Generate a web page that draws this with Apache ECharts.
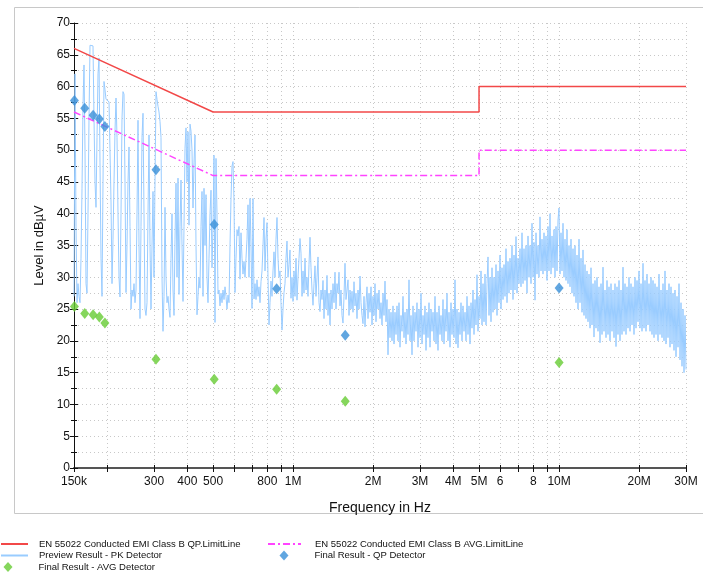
<!DOCTYPE html>
<html>
<head>
<meta charset="utf-8">
<script src="https://cdn.jsdelivr.net/npm/echarts@6/dist/echarts.min.js"></script>
<style>
html,body{margin:0;padding:0;background:#fff;}
#chart{width:703px;height:573px;}
</style>
</head>
<body>
<div id="chart"></div>
<script>
// ---- Axis ticks ----
const tickHz = [150e3,200e3,300e3,400e3,500e3,600e3,700e3,800e3,900e3,1e6,2e6,3e6,4e6,5e6,6e6,7e6,8e6,9e6,10e6,20e6,30e6];
const tickLabels = ['150k','','300','400','500','','','800','','1M','2M','3M','4M','5M','6','','8','','10M','20M','30M'];

// ---- Limit lines [Hz, dBuV] ----
const qpLimitHz = [150e3, 500e3, 5e6, 5e6, 30e6];
const qpLimitDb = [66, 56, 56, 60, 60];
const avgLimitHz = [150e3, 500e3, 5e6, 5e6, 30e6];
const avgLimitDb = [56, 46, 46, 50, 50];

// ---- Final results ----
const qpHz = [150.5e3, 164.6e3, 177e3, 186.8e3, 196e3, 305e3, 505e3, 867e3, 1.57e6, 10.0e6];
const qpDb = [57.8, 56.6, 55.5, 54.9, 53.7, 46.9, 38.3, 28.2, 20.9, 28.3];
const avgHz = [150.5e3, 164.6e3, 177e3, 186.8e3, 196e3, 305e3, 505e3, 867e3, 1.57e6, 10.0e6];
const avgDb = [25.4, 24.3, 24.1, 23.75, 22.8, 17.1, 13.95, 12.4, 10.5, 16.6];

// ---- Preview sweep (PK), log-spaced from start to stop ----
const pkStartHz = 150e3;
const pkStopHz = 30e6;
const pkLevels = [
27,62,38,26,29,27,26,33,44,57,
63.4,50,29,27.5,40,55,66.5,66.7,66.6,66.4,
55,45,41,52,62,64.5,48,33,27,45,
60.8,59.5,58,57.8,57.9,57.6,57.5,42,29,36,
45,53,58.2,52,40,30,26.9,40,55,59.2,
58.8,45,27.6,35,45,50.5,38,25,28,27,
29,26,28,40,54.7,35,23.5,38,52,55.8,
40,25,24,26,40,52.4,35,25,35,43.5,
30,45,59.2,58,56.9,56,54.5,52,30,21.5,
27,41,30,26,27,25,23.7,33,40,28,
24,36,44.8,30,45.6,27.3,38,45.3,35,26.2,
38,50.3,53.5,45,52.9,38.2,54.1,53,50,40.9,
48,52.4,35,24.1,27,30,28.3,38,43.5,27,
44,35,43,30,26,33,40,43.7,31.5,38,
49.2,22.9,48.7,40,27.4,28,25.5,27.5,26,28,
26.5,28.5,27,25,27.2,26,35,42.4,47.5,48.2,
42,27.6,33,37.5,36.5,38,29.7,37,33,30.5,
32.5,30,33,36,41.4,30,42.4,35,25.1,42.4,
26.6,29,26.5,29.6,27,28.5,26,29.3,31,35,
39.4,31,36,38.6,30,22.5,26,29.4,27,31,
34,30,36,39.4,33,30,31,26,21.7,25,
27.6,29,33,35.7,30,32,34.3,26.7,30,26.2,
31,27,33,26.4,30,33,36.1,33.8,27,31,
27.5,33,28,30,27,32,36.3,31.5,28,25.6,
29,31.8,27,30,33.2,26,24.6,28,26.5,29.5,
23.5,28,25,30.3,24,27.5,22.5,28,25,29,
26,30.8,25,29,27.5,30.8,25.5,28,24,22.8,
27,32.2,26.5,28,29.6,24,28,25,27.8,24.5,
29.3,25.5,27.5,23.5,28,25,30.2,26,24,22.7,
27,22.2,26,28.5,23.5,27.5,24.5,28.5,22.5,27,
24,29,23,27.5,25,28,23.5,26,22.5,27.5,
24,29.4,23,26.5,17.8,25,20.5,24.5,20,25.5,
19.5,24.5,21,25.5,20,26,19,24,21.5,27,
20.5,24.5,19.5,25,21,29.6,20,24,17.8,25.5,
20,24.5,21.5,26,19,25,20.5,27.5,19.5,24,
21,25.5,18.5,24.5,20.5,26,19,25,21.5,24.5,
20,27,19.5,24.5,18.5,25.5,21,24,20,26.5,
19.5,25,21.5,27.5,20,24.5,19,26,21,25,
20.5,29.6,19.5,25,18.9,24.5,21,26,20,25.5,
21.5,24.5,20,27,21,25.5,19.5,26,22,28,
21,26.5,22.5,30.4,21.5,27,23.5,31,22.5,29,
23,30.5,22.5,29,33.2,24,30,23,31.5,24.5,
30,25,32,24,31,26,33.5,25,31.5,26.5,
32,27,34.5,26,32.5,27.5,33,28,35,26.5,
33.5,28,36.4,27.5,33,29,34.5,28.5,37,29,
34.5,29.5,35,27.5,36.5,30,35,29,38.5,30,
35.5,26.4,37,30.5,35,30,39.5,31,36,30.5,
37,31,36.5,29.5,38,31,40,30.5,36.5,31.5,
37.5,30,38,31,39,40.9,30.5,37,31,38.5,
30,36,29.5,37.5,29,35,28.5,36,27.5,34.5,
27,35,26,33.5,25,36,26,33,24.5,34.3,
24,32,23.5,31,23,30.5,22,31.5,22.5,29,
20.6,29.5,22,30,21.5,28.5,19.7,29,21,31.6,
21.5,28,20.5,29.5,21,28.5,20,29,21.5,28,
20.5,29,19.1,28.5,21,29.5,20,28,21,31.6,
21.5,29,21,28.5,22,30,21.5,29,22.5,28.5,
21,30,22,29.5,23,31,22,29,21.5,32.2,
22,29.5,21.5,30.5,22.5,29,21.5,30,21,29.5,
20.5,29,21,28.5,20,30.5,21,28,20.5,29,
20,31,19.5,28,20.5,29,19,28.5,19.5,27.5,
18.5,28,17.5,27,19,29,17,26,16,25,
15,24,15.5
];

// ---- Series names ----
const names = {
  qpLim: 'EN 55022 Conducted EMI Class B QP.LimitLine',
  avgLim: 'EN 55022 Conducted EMI Class B AVG.LimitLine',
  pk: 'Preview Result - PK Detector',
  qp: 'Final Result - QP Detector',
  avg: 'Final Result - AVG Detector'
};

const lg = Math.log10;
const pair = (hz, db) => hz.map((h, i) => [lg(h), db[i]]);
const nPk = pkLevels.length;
const pkData = pkLevels.map((v, i) => [lg(pkStartHz) + (lg(pkStopHz) - lg(pkStartHz)) * i / (nPk - 1), v]);
const tickVals = tickHz.map(lg);
const xMin = lg(pkStartHz), xMax = lg(pkStopHz);

const FONT = "'Liberation Sans', Arial, sans-serif";
const LTEXT = {fontFamily: FONT, fontSize: 9.5, color: '#111'};

function xLabel(v) {
  let best = 0, d = Infinity;
  tickVals.forEach((t, i) => { const dd = Math.abs(t - v); if (dd < d) { d = dd; best = i; } });
  return tickLabels[best];
}

const hideSym = {opacity: 0};

const chart = echarts.init(document.getElementById('chart'), null, {renderer: 'canvas'});
chart.setOption({
  animation: false,
  backgroundColor: '#fff',
  graphic: [{
    type: 'rect', silent: true, z: -10,
    shape: {x: 14.5, y: 7.5, width: 700, height: 506},
    style: {fill: 'none', stroke: '#c8c8c8', lineWidth: 1}
  }],
  grid: {left: 74, right: 17, top: 23, bottom: 105, containLabel: false},
  xAxis: [{
    type: 'value', min: xMin, max: xMax,
    name: 'Frequency in Hz', nameLocation: 'middle', nameGap: 33,
    nameTextStyle: {fontFamily: FONT, fontSize: 14, color: '#111'},
    axisLine: {show: true, lineStyle: {color: '#555', width: 2}},
    axisTick: {show: true, length: 4, customValues: tickVals, lineStyle: {color: '#111', width: 1}},
    axisLabel: {show: true, customValues: tickVals, formatter: xLabel, margin: 8,
      fontFamily: FONT, fontSize: 12, color: '#111'},
    splitLine: {show: true, lineStyle: {color: '#c8c8c8', type: [1, 3], width: 1}}
  }, {
    type: 'value', min: xMin, max: xMax, position: 'bottom',
    axisLine: {show: false},
    axisTick: {show: true, inside: true, length: 3, customValues: tickVals, lineStyle: {color: '#111', width: 1}},
    axisLabel: {show: false},
    splitLine: {show: false}
  }],
  yAxis: [{
    type: 'value', min: 0, max: 70, interval: 5,
    name: 'Level in dBµV', nameLocation: 'middle', nameGap: 28, nameRotate: 90,
    nameTextStyle: {fontFamily: FONT, fontSize: 13, color: '#111'},
    axisLine: {show: true, lineStyle: {color: '#111', width: 1}},
    axisTick: {show: true, length: 4, lineStyle: {color: '#111'}},
    minorTick: {show: true, splitNumber: 2, length: 3, lineStyle: {color: '#111'}},
    axisLabel: {margin: 4, fontFamily: FONT, fontSize: 12, color: '#111'},
    splitLine: {show: true, lineStyle: {color: '#c8c8c8', type: [1, 3]}},
    minorSplitLine: {show: true, lineStyle: {color: '#c8c8c8', type: [1, 3]}}
  }, {
    type: 'value', min: 0, max: 70, interval: 5, position: 'left',
    axisLine: {show: false},
    axisTick: {show: true, inside: true, length: 4, lineStyle: {color: '#111'}},
    minorTick: {show: true, splitNumber: 2, length: 3, lineStyle: {color: '#111'}},
    axisLabel: {show: false},
    splitLine: {show: false}
  }],
  legend: [{
    left: 0, top: 539, orient: 'vertical', padding: 0,
    itemWidth: 27, itemHeight: 10, itemGap: 1.5,
    textStyle: Object.assign({padding: [0, 0, 0, 6]}, LTEXT),
    data: [
      {name: names.qpLim, itemStyle: hideSym},
      {name: names.pk, itemStyle: hideSym}
    ]
  }, {
    left: 267, top: 539, orient: 'vertical', padding: 0,
    itemWidth: 33, itemHeight: 10, itemGap: 1.5,
    textStyle: Object.assign({padding: [0, 0, 0, 9]}, LTEXT),
    data: [
      {name: names.avgLim, itemStyle: hideSym}
    ]
  }, {
    left: 3.5, top: 562, orient: 'vertical', padding: 0,
    itemWidth: 9, itemHeight: 10,
    textStyle: Object.assign({padding: [0, 0, 0, 21]}, LTEXT),
    data: [{name: names.avg, icon: 'diamond'}]
  }, {
    left: 279.5, top: 550.5, orient: 'vertical', padding: 0,
    itemWidth: 9, itemHeight: 10,
    textStyle: Object.assign({padding: [0, 0, 0, 21]}, LTEXT),
    data: [{name: names.qp, icon: 'diamond'}]
  }],
  series: [{
    name: names.pk, type: 'line', data: pkData, showSymbol: false, symbol: 'none',
    sampling: null, z: 2,
    lineStyle: {color: '#99ccff', width: 1}, itemStyle: {color: '#99ccff'}
  }, {
    name: names.qpLim, type: 'line', data: pair(qpLimitHz, qpLimitDb), symbol: 'none', z: 3,
    lineStyle: {color: '#f24848', width: 1.5}, itemStyle: {color: '#f24848'}
  }, {
    name: names.avgLim, type: 'line', data: pair(avgLimitHz, avgLimitDb), symbol: 'none', z: 3,
    lineStyle: {color: '#ff44ff', width: 1.5, type: [7, 3, 2, 3]}, itemStyle: {color: '#ff44ff'}
  }, {
    name: names.qp, type: 'scatter', data: pair(qpHz, qpDb), symbol: 'diamond', symbolSize: [9, 11], z: 4,
    itemStyle: {color: '#3a90d8'}
  }, {
    name: names.avg, type: 'scatter', data: pair(avgHz, avgDb), symbol: 'diamond', symbolSize: [9, 11], z: 4,
    itemStyle: {color: '#66cc33'}
  }]
});
</script>
</body>
</html>
